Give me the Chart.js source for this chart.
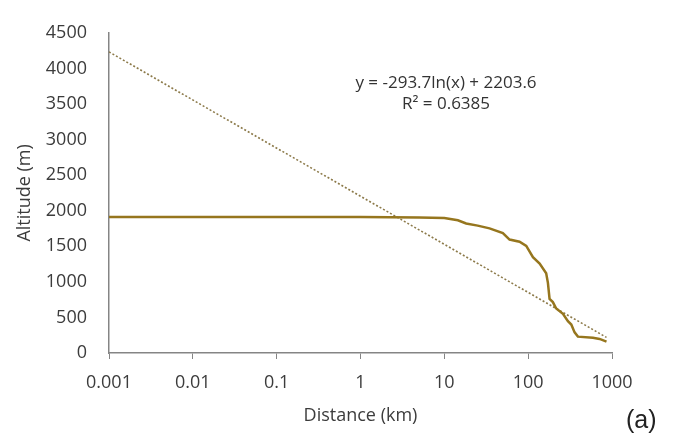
<!DOCTYPE html>
<html lang="en">
<head>
    <meta charset="UTF-8">
    <title>Altitude vs Distance</title>
    <script src="https://cdn.jsdelivr.net/npm/chart.js"></script>
    <style>
        body {
            margin: 0;
            background: #ffffff;
            font-family: 'Open Sans', sans-serif;
        }
        .wrap {
            position: relative;
            width: 673px;
            height: 447px;
        }
        .eq {
            position: absolute;
            left: 346px;
            width: 200px;
            text-align: center;
            font-size: 17px;
            color: #333;
            white-space: nowrap;
        }
        .panel {
            position: absolute;
            left: 626px;
            top: 405px;
            font-family: 'Liberation Sans', Arial, sans-serif;
            font-size: 25px;
            color: #222;
        }
    </style>
</head>
<body>
    <div class="wrap">
        <canvas id="profileChart" width="673" height="447"></canvas>
        <div class="eq" style="top:70px;">y = -293.7ln(x) + 2203.6</div>
        <div class="eq" style="top:91px;">R² = 0.6385</div>
        <div class="panel">(a)</div>
    </div>
    <script>
        // altitude profile
        const distKm = [0.001, 1, 5, 10, 14.5, 18.2, 25, 34.6, 49.9, 60, 78.9, 94.9, 114, 137, 164, 172, 180, 197, 216, 260, 298, 327, 358, 392, 592, 711, 860];
        const altM = [1910, 1910, 1905, 1898, 1865, 1820, 1790, 1752, 1684, 1594, 1563, 1504, 1347, 1256, 1121, 986, 761, 716, 626, 550, 446, 400, 290, 230, 215, 198, 160];

        // log trendline end points
        const trendKm = [0.001, 860];
        const trendAlt = [4232, 219];

        const xTicks = [0.001, 0.01, 0.1, 1, 10, 100, 1000];
        const axisGrey = '#858585';
        const textGrey = '#3c3c3c';

        const toPoints = (xs, ys) => xs.map((x, i) => ({ x: x, y: ys[i] }));

        new Chart(document.getElementById('profileChart'), {
            type: 'scatter',
            data: {
                datasets: [{
                    label: 'Altitude',
                    data: toPoints(distKm, altM),
                    showLine: true,
                    borderColor: '#96761e',
                    borderWidth: 2.5,
                    pointRadius: 0,
                    tension: 0
                },
                {
                    label: 'Log trend',
                    data: toPoints(trendKm, trendAlt),
                    showLine: true,
                    borderColor: '#8c7a4a',
                    borderWidth: 1.6,
                    borderDash: [2, 2],
                    pointRadius: 0
                }]
            },
            options: {
                responsive: false,
                animation: false,
                layout: {
                    padding: { top: 8, right: 61, left: 0, bottom: 20 }
                },
                plugins: {
                    legend: { display: false },
                    tooltip: { enabled: false }
                },
                scales: {
                    x: {
                        type: 'logarithmic',
                        min: 0.001,
                        max: 1000,
                        afterBuildTicks: (scale) => {
                            scale.ticks = xTicks.map(v => ({ value: v }));
                        },
                        afterFit: (scale) => { scale.height = 74; },
                        ticks: {
                            color: textGrey,
                            font: { family: 'Open Sans', size: 18 },
                            padding: 13,
                            maxRotation: 0,
                            autoSkip: false,
                            callback: (v) => String(v)
                        },
                        grid: {
                            drawOnChartArea: false,
                            drawTicks: true,
                            tickLength: 6,
                            color: axisGrey
                        },
                        border: { color: axisGrey, width: 1.5 },
                        title: {
                            display: true,
                            text: 'Distance (km)',
                            color: textGrey,
                            font: { family: 'Open Sans', size: 18 },
                            padding: { top: 0, bottom: 0 }
                        }
                    },
                    y: {
                        min: 0,
                        max: 4500,
                        afterFit: (scale) => { scale.width = 109; },
                        ticks: {
                            stepSize: 500,
                            color: textGrey,
                            font: { family: 'Open Sans', size: 18 },
                            padding: 22,
                            callback: (v) => String(v)
                        },
                        grid: {
                            display: true,
                            drawOnChartArea: false,
                            drawTicks: false
                        },
                        border: { color: axisGrey, width: 1.5 },
                        title: {
                            display: true,
                            text: 'Altitude (m)',
                            color: textGrey,
                            font: { family: 'Open Sans', size: 18 },
                            padding: { top: 14, bottom: 0 }
                        }
                    }
                }
            }
        });
    </script>
</body>
</html>
